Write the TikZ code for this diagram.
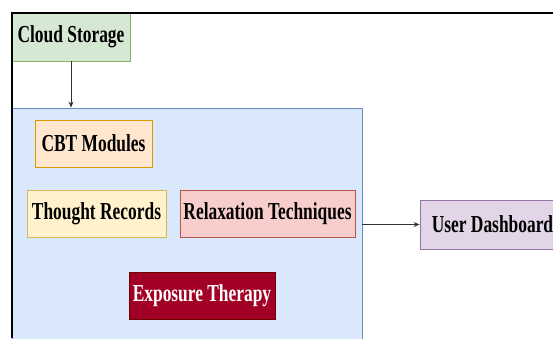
\documentclass[tikz,border=0pt]{standalone}
\usepackage{fontspec}
\setmainfont{Liberation Serif}
\usepackage{graphicx}
\usetikzlibrary{arrows.meta}

\definecolor{greenfill}{HTML}{D5E8D4}
\definecolor{greenline}{HTML}{82B366}
\definecolor{bluefill}{HTML}{DAE8FC}
\definecolor{blueline}{HTML}{6C8EBF}
\definecolor{orangefill}{HTML}{FFE6CC}
\definecolor{orangeline}{HTML}{D79B00}
\definecolor{yellowfill}{HTML}{FFF2CC}
\definecolor{yellowline}{HTML}{D6B656}
\definecolor{redfill}{HTML}{F8CECC}
\definecolor{redline}{HTML}{B85450}
\definecolor{darkred}{HTML}{A20025}
\definecolor{darkredline}{HTML}{6F0000}
\definecolor{purplefill}{HTML}{E1D5E7}
\definecolor{purpleline}{HTML}{9673A6}

\newcommand{\tall}[1]{\scalebox{1}[1.4]{#1}}

\begin{document}
\begin{tikzpicture}[
  x=1pt,y=1pt,
  box/.style={draw,line width=0.8pt,minimum height=47pt,inner sep=0pt,font=\fontsize{17.4}{20}\selectfont\bfseries},
  arr/.style={-{Stealth[length=6pt,width=5pt]},line width=0.8pt,draw=black!80}
]
\useasboundingbox (0,0) rectangle (553,338);
\node[draw=blueline,fill=bluefill,line width=0.8pt,minimum width=350pt,minimum height=240pt,inner sep=0pt] (panel) at (187,110) {};
\node[box,draw=greenline,fill=greenfill,minimum width=118pt,minimum height=48pt] (cloud) at (71,301) {\tall{Cloud Storage}};
\node[box,draw=orangeline,fill=orangefill,minimum width=117pt] (cbt) at (93.5,194.5) {\tall{CBT Modules}};
\node[box,draw=yellowline,fill=yellowfill,minimum width=139pt] (thought) at (96.5,124.5) {\tall{Thought Records}};
\node[box,draw=redline,fill=redfill,minimum width=175pt] (relax) at (267.5,124.5) {\tall{Relaxation Techniques}};
\node[box,draw=darkredline,fill=darkred,text=white,minimum width=146pt] (exposure) at (202,42.5) {\tall{Exposure Therapy}};
\node[box,draw=purpleline,fill=purplefill,minimum width=145pt,minimum height=49pt] (dash) at (492.5,113.5) {\tall{User Dashboard}};
\draw[arr] (cloud) -- (cloud |- panel.north);
\draw[arr] (panel.east |- dash.west) -- (dash.west);
% page frame
\draw[line width=1.6pt] (12,0) -- (12,325) -- (553,325);
\end{tikzpicture}
\end{document}
